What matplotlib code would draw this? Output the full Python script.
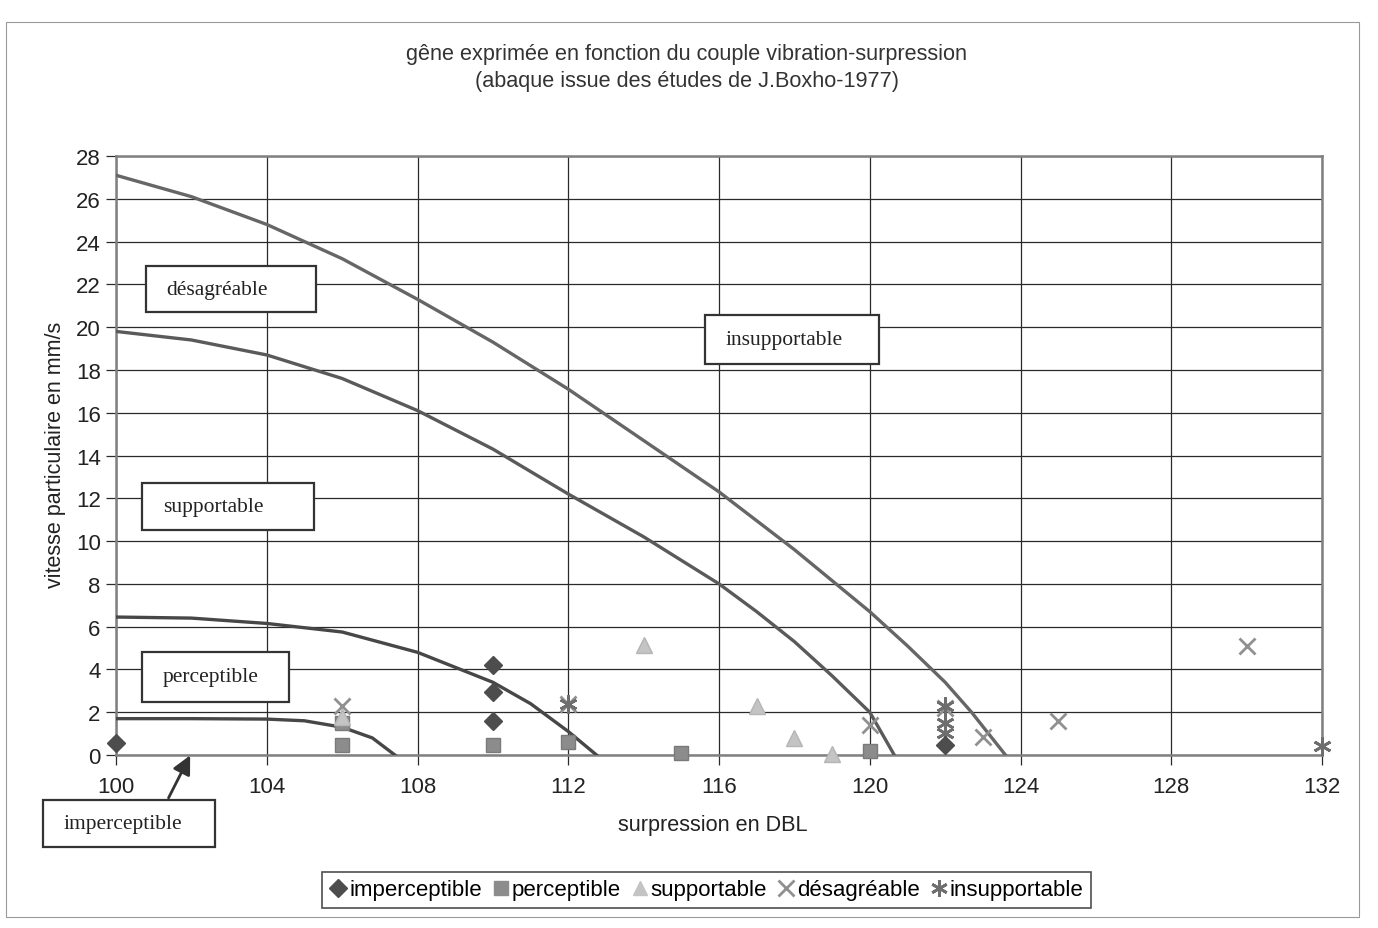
import matplotlib
matplotlib.use('Agg')
import matplotlib.pyplot as plt
from matplotlib.patches import Rectangle
from matplotlib.lines import Line2D

plt.rcParams['font.family'] = ['Liberation Sans', 'DejaVu Sans']

# courbes de l'abaque (limites entre zones)
lim_insupp_x = [100, 102, 104, 106, 108, 110, 112, 114, 116, 118, 120, 121, 122, 122.7, 123.6]
lim_insupp_y = [27.1, 26.1, 24.8, 23.2, 21.3, 19.3, 17.1, 14.7, 12.3, 9.6, 6.7, 5.1, 3.4, 2.0, 0]
lim_desag_x = [100, 102, 104, 106, 108, 110, 112, 114, 116, 117, 118, 119, 120, 120.65]
lim_desag_y = [19.8, 19.4, 18.7, 17.6, 16.1, 14.3, 12.2, 10.2, 8.0, 6.7, 5.3, 3.7, 2.0, 0]
lim_supp_x = [100, 102, 104, 106, 108, 109, 110, 111, 112, 112.75]
lim_supp_y = [6.45, 6.4, 6.15, 5.75, 4.8, 4.1, 3.4, 2.4, 1.1, 0]
lim_perc_x = [100, 102, 104, 105, 106, 106.8, 107.4]
lim_perc_y = [1.7, 1.7, 1.68, 1.6, 1.3, 0.8, 0]

# mesures
imperc_x = [100, 110, 110, 110, 122]
imperc_y = [0.58, 4.2, 2.95, 1.6, 0.45]
perc_x = [106, 106, 110, 112, 115, 120]
perc_y = [0.45, 1.5, 0.45, 0.6, 0.1, 0.2]
supp_x = [106, 114, 117, 118, 119]
supp_y = [1.8, 5.15, 2.3, 0.8, 0.05]
desag_x = [106, 112, 120, 122, 123, 125, 130]
desag_y = [2.3, 2.4, 1.4, 2.2, 0.85, 1.6, 5.1]
insupp_x = [112, 122, 122, 122, 132]
insupp_y = [2.4, 2.3, 1.5, 1.05, 0.4]

x_ticks = [100, 104, 108, 112, 116, 120, 124, 128, 132]
y_ticks = list(range(0, 29, 2))

fig = plt.figure(figsize=(13.78, 9.29), dpi=100)
ax = fig.add_axes([0.0842, 0.1862, 0.8752, 0.6448])

ax.set_xlim(100, 132)
ax.set_ylim(0, 28)
ax.set_xticks(x_ticks)
ax.set_yticks(y_ticks)
ax.grid(True, color='#2a2a2a', lw=0.9)
ax.set_axisbelow(True)
ax.tick_params(axis='both', labelsize=16, length=7, width=0.9, color='#2a2a2a', labelcolor='#222222')
ax.tick_params(axis='x', pad=8)
ax.tick_params(axis='y', pad=4)
for s in ax.spines.values():
    s.set_color('#808080')
    s.set_linewidth(1.8)

ax.plot(lim_insupp_x, lim_insupp_y, color='#666666', lw=2.4, zorder=3)
ax.plot(lim_desag_x, lim_desag_y, color='#5a5a5a', lw=2.4, zorder=3)
ax.plot(lim_supp_x, lim_supp_y, color='#474747', lw=2.4, zorder=3)
ax.plot(lim_perc_x, lim_perc_y, color='#474747', lw=2.4, zorder=3)

kw = dict(ls='none', clip_on=False, zorder=5)
ax.plot(perc_x, perc_y, marker='s', ms=10, color='#8c8c8c', mec='#7a7a7a', **kw)
ax.plot(supp_x, supp_y, marker='^', ms=11, color='#c4c4c4', mec='#b5b5b5', **kw)
ax.plot(desag_x, desag_y, marker='x', ms=12, mew=2, color='#909090', **kw)
ax.plot(insupp_x, insupp_y, marker=(6, 2, 0), ms=13, mew=2, color='#6e6e6e', **kw)
ax.plot(imperc_x, imperc_y, marker='D', ms=9, color='#4d4d4d', **kw)

# cadres des zones (x0, x1, y0, y1)
zones = [('désagréable', 100.8, 105.3, 20.7, 22.85),
         ('insupportable', 115.64, 120.25, 18.3, 20.55),
         ('supportable', 100.7, 105.25, 10.5, 12.7),
         ('perceptible', 100.69, 104.6, 2.5, 4.8),
         ('imperceptible', 98.06, 102.63, -4.29, -2.12)]
for txt, x0, x1, y0, y1 in zones:
    ax.add_patch(Rectangle((x0, y0), x1 - x0, y1 - y0, fc='white', ec='#333333',
                           lw=1.6, zorder=6, clip_on=False))
    ax.text(x0 + 0.54, (y0 + y1) / 2, txt, family=['Liberation Serif', 'DejaVu Serif'],
            fontsize=15.5, ha='left', va='center', color='#222222', zorder=7, clip_on=False)

ax.annotate('', xy=(102.0, 0.1), xytext=(101.36, -2.12),
            arrowprops=dict(arrowstyle='-|>', color='#333333', lw=2, mutation_scale=28),
            annotation_clip=False, zorder=7)

fig.text(0.4985, 0.941, 'gêne exprimée en fonction du couple vibration-surpression',
         ha='center', va='center', fontsize=15.6, color='#333333')
fig.text(0.4985, 0.912, '(abaque issue des études de J.Boxho-1977)',
         ha='center', va='center', fontsize=15.6, color='#333333')
fig.text(0.517, 0.111, 'surpression en DBL', ha='center', va='center', fontsize=15.6, color='#222222')
fig.text(0.040, 0.51, 'vitesse particulaire en mm/s', ha='center', va='center',
         rotation=90, fontsize=15.5, color='#222222')

handles = [Line2D([], [], ls='none', marker='D', ms=9, color='#4d4d4d'),
           Line2D([], [], ls='none', marker='s', ms=10, color='#8c8c8c'),
           Line2D([], [], ls='none', marker='^', ms=10, color='#c4c4c4'),
           Line2D([], [], ls='none', marker='x', ms=11, mew=2, color='#909090'),
           Line2D([], [], ls='none', marker=(6, 2, 0), ms=12, mew=2, color='#6e6e6e')]
labels = ['imperceptible', 'perceptible', 'supportable', 'désagréable', 'insupportable']
leg = fig.legend(handles, labels, loc='center', bbox_to_anchor=(0.513, 0.041), ncol=5,
                 fontsize=16, frameon=True, fancybox=False, handlelength=0.7,
                 handletextpad=0.15, columnspacing=0.5, borderpad=0.35)
leg.get_frame().set_edgecolor('#222222')
leg.get_frame().set_linewidth(1.2)

fig.patches.append(Rectangle((0.004, 0.012), 0.982, 0.963, transform=fig.transFigure,
                             fill=False, ec='#9a9a9a', lw=0.8))

fig.savefig('out.png', dpi=100)
